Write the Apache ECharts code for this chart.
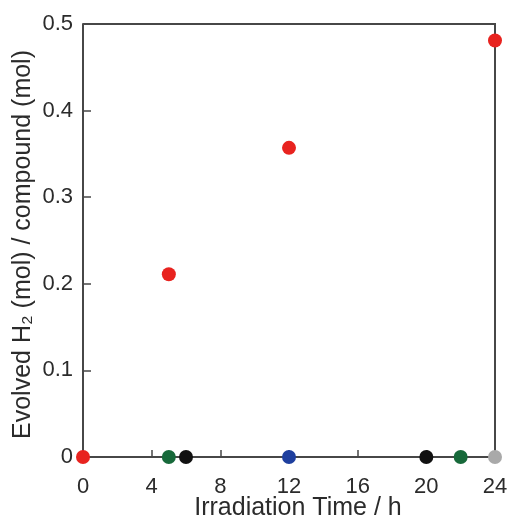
<!DOCTYPE html>
<html>
<head>
<meta charset="utf-8">
<script src="https://cdn.jsdelivr.net/npm/echarts@6/dist/echarts.min.js"></script>
<style>
    html, body { margin: 0; padding: 0; background: #fff; }
    #chart { width: 507px; height: 516px; }
</style>
</head>
<body>
<div id="chart"></div>
<script>
// irradiation time (h) and evolved H2 per compound
var redTime = [0, 5, 12, 24];
var redValue = [0, 0.211, 0.357, 0.481];
var greenTime = [5, 22];
var greenValue = [0, 0];
var blackTime = [6, 20];
var blackValue = [0, 0];
var blueTime = [12];
var blueValue = [0];
var grayTime = [24];
var grayValue = [0];

function pairs(xs, ys) {
    var out = [];
    for (var i = 0; i < xs.length; i++) {
        out.push([xs[i], ys[i]]);
    }
    return out;
}

function dots(name, color, xs, ys) {
    return {
        name: name,
        type: 'scatter',
        symbolSize: 14,
        clip: false,
        z: 5,
        itemStyle: { color: color, opacity: 1 },
        data: pairs(xs, ys)
    };
}

var chart = echarts.init(document.getElementById('chart'));
var font = 'Liberation Sans, Arial, sans-serif';
chart.setOption({
    animation: false,
    backgroundColor: '#fff',
    grid: { left: 83, right: 12, top: 24, bottom: 59, show: false, outerBoundsMode: 'none', containLabel: false },
    xAxis: {
        type: 'value',
        min: 0,
        max: 24,
        interval: 4,
        name: 'Irradiation Time / h',
        nameLocation: 'middle',
        nameGap: 39,
        nameMoveOverlap: false,
        nameTextStyle: { color: '#2b2b2b', fontSize: 25, fontFamily: font, padding: [0, 0, 0, 18] },
        axisLine: { show: true, lineStyle: { color: '#474747', width: 2 } },
        axisTick: { show: true, inside: true, length: 7, lineStyle: { color: '#474747', width: 1.5 } },
        axisLabel: { color: '#2b2b2b', fontSize: 22, fontFamily: font, margin: 19 },
        splitLine: { show: false }
    },
    yAxis: {
        type: 'value',
        min: 0,
        max: 0.5,
        interval: 0.1,
        name: 'Evolved H\u2082 (mol) / compound (mol)',
        nameLocation: 'middle',
        nameGap: 47,
        nameMoveOverlap: false,
        nameTextStyle: { color: '#2b2b2b', fontSize: 25, fontFamily: font, padding: [0, 8, 0, 0] },
        axisLine: { show: true, lineStyle: { color: '#474747', width: 2 } },
        axisTick: { show: true, inside: true, length: 8, lineStyle: { color: '#474747', width: 1.5 } },
        axisLabel: {
            color: '#2b2b2b', fontSize: 22, fontFamily: font, margin: 10,
            formatter: function (v) { return v === 0 ? '0' : v.toFixed(1); }
        },
        splitLine: { show: false }
    },
    graphic: [{
        type: 'polyline',
        z: 1,
        shape: { points: [[83, 24], [495, 24], [495, 457]] },
        style: { stroke: '#474747', lineWidth: 2, fill: null }
    }],
    series: [
        dots('green', '#17693a', greenTime, greenValue),
        dots('black', '#111111', blackTime, blackValue),
        dots('blue', '#1e3f9e', blueTime, blueValue),
        dots('gray', '#a9a9a9', grayTime, grayValue),
        dots('red', '#e8231f', redTime, redValue)
    ]
});
</script>
</body>
</html>
